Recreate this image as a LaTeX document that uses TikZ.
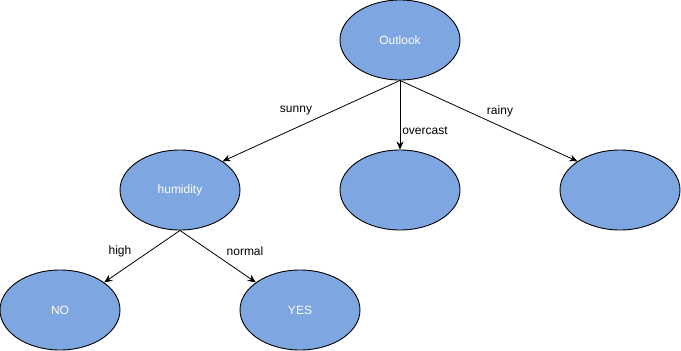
\documentclass[tikz,border=0pt]{standalone}
\usepackage{fontspec}
\setmainfont{Liberation Sans}
\usetikzlibrary{shapes.geometric,arrows.meta}
\definecolor{nodefill}{HTML}{7EA6E0}
\begin{document}
\begin{tikzpicture}[x=1pt,y=-1pt,
  tnode/.style={ellipse,draw=black,line width=0.9pt,fill=nodefill,minimum width=120pt,minimum height=80pt,inner sep=0pt,text=white,font=\fontsize{12pt}{14pt}\selectfont},
  conn/.style={draw=black,line width=0.8pt,-{Stealth[length=8pt,width=7pt,inset=2.5pt]}},
  elabel/.style={font=\fontsize{12pt}{14pt}\selectfont,text=black,inner sep=0pt}]
\useasboundingbox (0,0) rectangle (681,351);
\node[tnode] (outlook) at (400,40) {Outlook};
\node[tnode] (humidity) at (180,190) {humidity};
\node[tnode] (overcast) at (400,190) {};
\node[tnode] (rainy) at (620,190) {};
\node[tnode] (no) at (60,310) {NO};
\node[tnode] (yes) at (300,310) {YES};
\draw[conn] (outlook.south) -- (humidity.34);
\draw[conn] (outlook.south) -- (overcast.north);
\draw[conn] (outlook.south) -- (rainy.146);
\draw[conn] (humidity.south) -- (no.32);
\draw[conn] (humidity.south) -- (yes.148);
\node[elabel] (lsunny) at (296,111) {sunny};
\node[elabel] (lover) at (425,131) {overcast};
\node[elabel] (lrainy) at (500,111) {rainy};
\node[elabel] (lhigh) at (120,251) {high};
\node[elabel] (lnormal) at (245,251) {normal};
\end{tikzpicture}
\end{document}
